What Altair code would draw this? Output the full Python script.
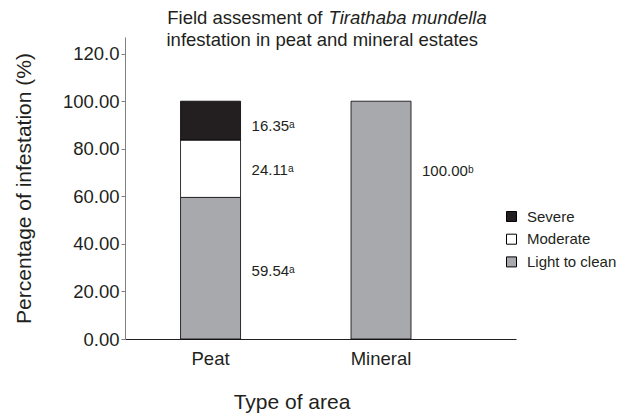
import altair as alt
import pandas as pd

# ---- data ----
areas = ["Peat", "Peat", "Peat", "Mineral"]
levels = ["Light to clean", "Moderate", "Severe", "Light to clean"]
values = [59.54, 24.11, 16.35, 100.00]
letters = ["a", "a", "a", "b"]
label_at = [28.5, 71.0, 89.5, 70.5]          # where each value label sits (data units)
area_order = ["Peat", "Mineral"]
level_order = ["Severe", "Moderate", "Light to clean"]
level_colors = ["#231f20", "#ffffff", "#a7a9ac"]
y_ticks = [0, 20, 40, 60, 80, 100, 120]

sup = {"a": "\u1d43", "b": "\u1d47"}
df = pd.DataFrame({
    "area": areas,
    "level": levels,
    "value": values,
    "rank": [level_order[::-1].index(l) for l in levels],
    "label": [f"{v:.2f}{sup[s]}" for v, s in zip(values, letters)],
    "label_at": label_at,
})

FONT = "Liberation Sans"
INK = "#231f20"

x_enc = alt.X(
    "area:N", sort=area_order,
    scale=alt.Scale(paddingInner=0.648, paddingOuter=0.4707, align=0.346),
    axis=alt.Axis(title="Type of area", labelAngle=0, ticks=False,
                  domainColor=INK, domainWidth=1.2, labelFontSize=18.5, labelPadding=10,
                  labelColor=INK, titleFontSize=21, titleFontWeight="normal",
                  titleColor=INK, titleX=166.5, titleY=69, titleAlign="center",
                  titleBaseline="alphabetic"),
)

y_axis = alt.Axis(
    values=y_ticks,
    labelExpr="datum.value == 120 ? '120.0' : format(datum.value, '.2f')",
    grid=False, domainColor="#808080", tickColor="#808080", tickSize=4,
    labelPadding=2, labelFontSize=18.5, labelColor=INK,
    title="Percentage of infestation (%)", titleFontSize=21, titleFontWeight="normal",
    titleColor=INK, titleX=-101, titleY=151, titleAlign="center", titleBaseline="middle",
)
y_scale = alt.Scale(domain=[0, 127], nice=False)

bars = alt.Chart(df).mark_bar(size=60, stroke="black", strokeWidth=0.8).encode(
    x=x_enc,
    y=alt.Y("value:Q", stack="zero", scale=y_scale, axis=y_axis),
    color=alt.Color("level:N", sort=level_order,
                    scale=alt.Scale(domain=level_order, range=level_colors),
                    legend=alt.Legend(title=None, orient="none", legendX=379, legendY=172,
                                      symbolType="square", symbolSize=100,
                                      symbolStrokeColor="black", symbolStrokeWidth=1,
                                      labelFontSize=15, labelColor=INK, labelOffset=8,
                                      rowPadding=6.7, padding=0)),
    order=alt.Order("rank:Q", sort="ascending"),
)

labels = alt.Chart(df).mark_text(align="left", baseline="middle", dx=41,
                                 fontSize=15, color=INK).encode(
    x=alt.X("area:N", sort=area_order),
    y=alt.Y("label_at:Q", stack=None),
    text="label:N",
)

title1a = alt.Chart(pd.DataFrame({"t": ["Field assesment of"]})).mark_text(
    align="right", baseline="alphabetic", fontSize=18.5, color=INK).encode(
    x=alt.value(197.5), y=alt.value(-13), text="t:N")
title1b = alt.Chart(pd.DataFrame({"t": ["Tirathaba mundella"]})).mark_text(
    align="left", baseline="alphabetic", fontSize=18.5, fontStyle="italic", color=INK).encode(
    x=alt.value(203.5), y=alt.value(-13), text="t:N")
title2 = alt.Chart(pd.DataFrame({"t": ["infestation in peat and mineral estates"]})).mark_text(
    align="center", baseline="alphabetic", fontSize=18.5, color=INK).encode(
    x=alt.value(197.3), y=alt.value(8.5), text="t:N")

chart = alt.layer(bars, labels, title1a, title1b, title2).properties(
    width=391, height=302,
    padding={"left": 117, "top": 29, "right": 100, "bottom": 74},
    autosize="none",
).configure(font=FONT).configure_view(stroke=None)

chart.save("out.html", embed_options={"renderer": "svg", "actions": False})
